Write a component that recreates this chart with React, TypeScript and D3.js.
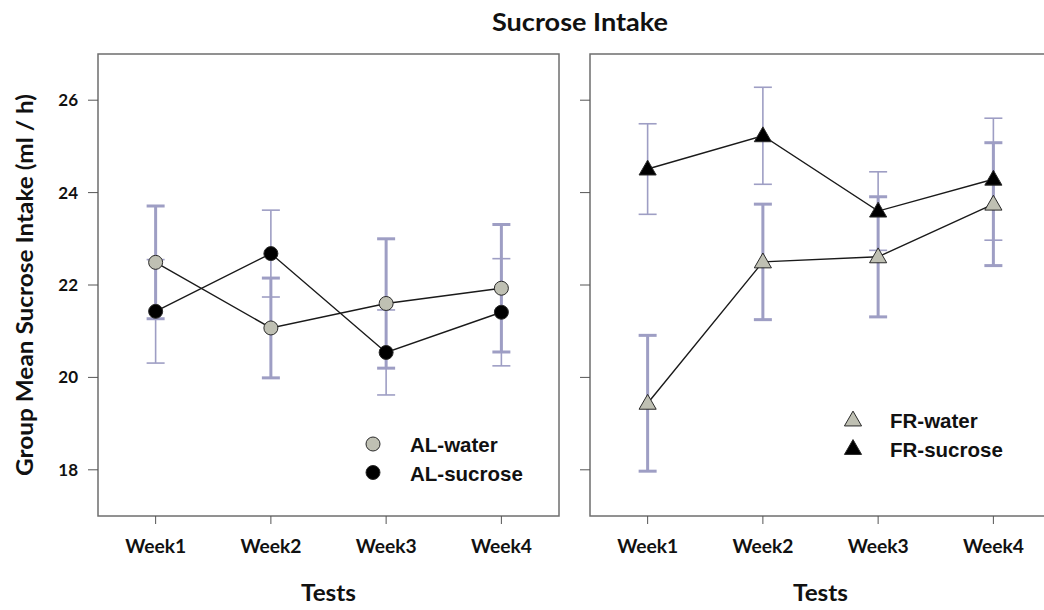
import React from "react";
import * as d3 from "d3";

const weeks = ["Week1", "Week2", "Week3", "Week4"];
const yTicks = [18, 20, 22, 24, 26];

const alWater = [22.49, 21.07, 21.6, 21.93];
const alWaterSE = [1.22, 1.08, 1.4, 1.38];
const alSucrose = [21.43, 22.68, 20.54, 21.41];
const alSucroseSE = [1.12, 0.94, 0.92, 1.16];

const frWater = [19.44, 22.5, 22.61, 23.75];
const frWaterSE = [1.47, 1.25, 1.3, 1.33];
const frSucrose = [24.51, 25.23, 23.6, 24.29];
const frSucroseSE = [0.98, 1.05, 0.85, 1.32];

const W = 1044;
const H = 610;
const top = 54;
const bottom = 516;
const panels = [
  { x0: 98, x1: 559, kind: "circle", water: alWater, waterSE: alWaterSE, sucrose: alSucrose, sucroseSE: alSucroseSE, labels: ["AL-water", "AL-sucrose"], legendX: 373, legendY: 444, showY: true },
  { x0: 590, x1: 1051, kind: "triangle", water: frWater, waterSE: frWaterSE, sucrose: frSucrose, sucroseSE: frSucroseSE, labels: ["FR-water", "FR-sucrose"], legendX: 853, legendY: 420, showY: false },
];

const y = d3.scaleLinear().domain([17, 27]).range([bottom, top]);
const calibri = "Lato, 'Open Sans', sans-serif";
const arial = "'Liberation Sans', Arial, sans-serif";
const barColor = "#9e9ec4";
const grayFill = "#bfc0b3";

function Marker({ kind, cx, cy, fill, r = 7 }: any) {
  if (kind === "circle") {
    return <circle cx={cx} cy={cy} r={r} fill={fill} stroke="#2a2a2a" strokeWidth={1} />;
  }
  const sym = d3.symbol().type(d3.symbolTriangle).size(r * r * 2.6)();
  return <path d={sym as string} transform={`translate(${cx},${cy + 1})`} fill={fill} stroke="#2a2a2a" strokeWidth={1} />;
}

function ErrBar({ cx, v, se, width }: any) {
  const cap = 9;
  return (
    <g stroke={barColor} strokeWidth={width} fill="none">
      <line x1={cx} x2={cx} y1={y(v + se)} y2={y(v - se)} />
      <line x1={cx - cap} x2={cx + cap} y1={y(v + se)} y2={y(v + se)} />
      <line x1={cx - cap} x2={cx + cap} y1={y(v - se)} y2={y(v - se)} />
    </g>
  );
}

export default function App() {
  return (
    <svg width={W} height={H} style={{ display: "block", position: "absolute", left: 0, top: 0 }}>
      <rect width={W} height={H} fill="#fff" />
      <text x={580} y={31} textAnchor="middle" fontFamily={calibri} fontWeight={700} fontSize={25} textLength={176} lengthAdjust="spacingAndGlyphs" fill="#111">Sucrose Intake</text>
      <text transform={`translate(33,${(top + bottom) / 2}) rotate(-90)`} textAnchor="middle" fontFamily={calibri} fontWeight={700} fontSize={22} textLength={382} lengthAdjust="spacingAndGlyphs" fill="#111">Group Mean Sucrose Intake (ml / h)</text>
      {panels.map((p, pi) => {
        const x = d3.scalePoint<string>().domain(weeks).range([p.x0, p.x1]).padding(0.5);
        const line = d3.line<number>().x((_, i) => x(weeks[i]) as number).y((d) => y(d));
        return (
          <g key={pi}>
            <rect x={p.x0} y={top} width={p.x1 - p.x0} height={bottom - top} fill="none" stroke="#6e6e6e" strokeWidth={1.5} />
            {yTicks.map((t) => (
              <g key={t}>
                <line x1={p.x0 - 10} x2={p.x0} y1={y(t)} y2={y(t)} stroke="#555" strokeWidth={1} />
                {p.showY && (
                  <text x={p.x0 - 20} y={y(t) + 6} textAnchor="end" fontFamily={calibri} fontWeight={700} fontSize={17} fill="#111">{t}</text>
                )}
              </g>
            ))}
            {weeks.map((w) => (
              <g key={w}>
                <line x1={x(w)} x2={x(w)} y1={bottom} y2={bottom + 8} stroke="#555" strokeWidth={1} />
                <text x={x(w)} y={bottom + 37} textAnchor="middle" fontFamily={calibri} fontWeight={700} fontSize={18} textLength={61} lengthAdjust="spacingAndGlyphs" fill="#111">{w}</text>
              </g>
            ))}
            <text x={(p.x0 + p.x1) / 2} y={601} textAnchor="middle" fontFamily={calibri} fontWeight={700} fontSize={22} textLength={55} lengthAdjust="spacingAndGlyphs" fill="#111">Tests</text>
            {weeks.map((w, i) => (
              <g key={"eb" + w}>
                <ErrBar cx={x(w)} v={p.water[i]} se={p.waterSE[i]} width={3} />
                <ErrBar cx={x(w)} v={p.sucrose[i]} se={p.sucroseSE[i]} width={1.6} />
              </g>
            ))}
            <path d={line(p.water) as string} fill="none" stroke="#1a1a1a" strokeWidth={1.4} />
            <path d={line(p.sucrose) as string} fill="none" stroke="#1a1a1a" strokeWidth={1.4} />
            {weeks.map((w, i) => (
              <g key={"m" + w}>
                <Marker kind={p.kind} cx={x(w)} cy={y(p.water[i])} fill={grayFill} />
                <Marker kind={p.kind} cx={x(w)} cy={y(p.sucrose[i])} fill="#000" />
              </g>
            ))}
            <Marker kind={p.kind} cx={p.legendX} cy={p.legendY} fill={grayFill} />
            <Marker kind={p.kind} cx={p.legendX} cy={p.legendY + 28.5} fill="#000" />
            <text x={p.legendX + 37} y={p.legendY + 8} fontFamily={arial} fontWeight={700} fontSize={20.5} fill="#111">{p.labels[0]}</text>
            <text x={p.legendX + 37} y={p.legendY + 36.5} fontFamily={arial} fontWeight={700} fontSize={20.5} fill="#111">{p.labels[1]}</text>
          </g>
        );
      })}
    </svg>
  );
}
